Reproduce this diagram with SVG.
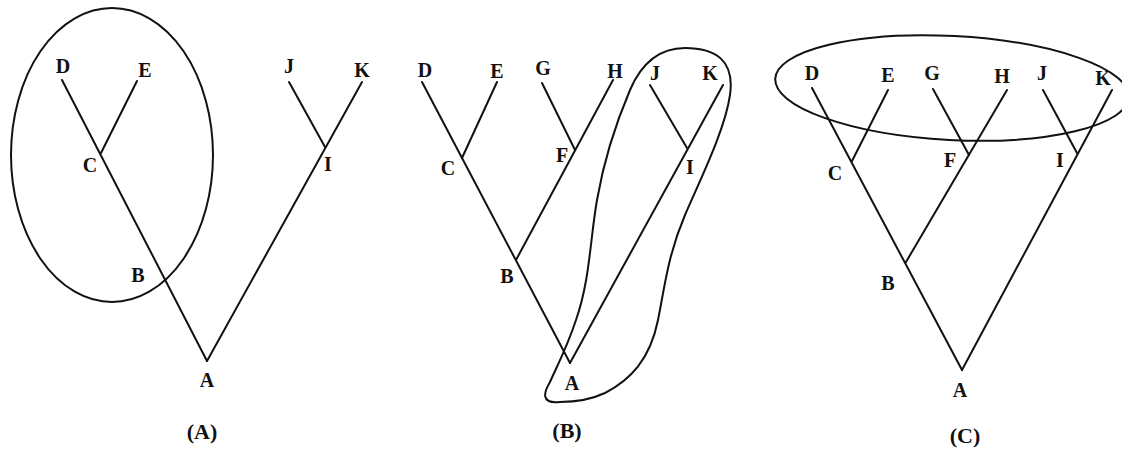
<svg xmlns="http://www.w3.org/2000/svg" width="1122" height="457" viewBox="0 0 1122 457">
<style>
.t{font-family:"Liberation Serif","Times New Roman",serif;font-weight:bold;font-size:20px;fill:#111;text-anchor:middle}
.cap{font-family:"Liberation Serif","Times New Roman",serif;font-weight:bold;font-size:22px;fill:#111;text-anchor:middle}
.e{fill:none;stroke:#111;stroke-width:2;stroke-linecap:round;stroke-linejoin:round}
</style>
<rect width="1122" height="457" fill="#fff"/>
<g id="connectors" class="e">
<!-- Panel A -->
<line x1="62" y1="80" x2="207" y2="361"/>
<line x1="137" y1="81" x2="101" y2="153"/>
<line x1="362" y1="82" x2="207" y2="361"/>
<line x1="289" y1="82" x2="325" y2="147"/>
<!-- Panel B -->
<line x1="422" y1="82" x2="570" y2="363"/>
<line x1="497" y1="82" x2="462" y2="158"/>
<line x1="613" y1="80" x2="516" y2="260"/>
<line x1="542" y1="83" x2="575" y2="150"/>
<line x1="723" y1="85" x2="570" y2="363"/>
<line x1="650" y1="85" x2="687" y2="148"/>
<!-- Panel C -->
<line x1="812" y1="88" x2="962" y2="370"/>
<line x1="888" y1="90" x2="852" y2="161"/>
<line x1="1007" y1="90" x2="906" y2="262"/>
<line x1="933" y1="89" x2="969" y2="155"/>
<line x1="1112" y1="90" x2="962" y2="370"/>
<line x1="1043" y1="90" x2="1077" y2="153"/>
</g>
<g id="groupings" class="e">
<ellipse id="ellipseA" cx="112" cy="155" rx="101" ry="147"/>
<path id="blobB" d="M 560,402 C 540,404 544,392 550,382 C 556,368 566,350 576,320 C 590,280 590,240 597,200 C 603,165 613,130 630,90 C 642,62 660,48 685,48 C 715,48 735,60 730,95 C 725,130 700,180 685,215 C 668,255 665,285 658,320 C 650,360 630,380 605,393 C 590,400 572,402 560,402 Z"/>
<ellipse id="ellipseC" cx="952" cy="88" rx="177" ry="52" transform="rotate(3 952 88)"/>
</g>
<g id="panelA">
<g id="A_D"><text class="t" x="63" y="73">D</text></g>
<g id="A_E"><text class="t" x="145" y="77">E</text></g>
<g id="A_C"><text class="t" x="90" y="172">C</text></g>
<g id="A_B"><text class="t" x="138" y="282">B</text></g>
<g id="A_A"><text class="t" x="207" y="387">A</text></g>
<g id="A_I"><text class="t" x="328" y="171">I</text></g>
<g id="A_J"><text class="t" x="289" y="73">J</text></g>
<g id="A_K"><text class="t" x="362" y="77">K</text></g>
<text class="cap" x="202" y="439">(A)</text>
</g>
<g id="panelB">
<g id="B_D"><text class="t" x="425" y="77">D</text></g>
<g id="B_E"><text class="t" x="497" y="78">E</text></g>
<g id="B_G"><text class="t" x="543" y="75">G</text></g>
<g id="B_H"><text class="t" x="615" y="78">H</text></g>
<g id="B_J"><text class="t" x="655" y="80">J</text></g>
<g id="B_K"><text class="t" x="710" y="80">K</text></g>
<g id="B_C"><text class="t" x="448" y="175">C</text></g>
<g id="B_F"><text class="t" x="562" y="162">F</text></g>
<g id="B_B"><text class="t" x="507" y="283">B</text></g>
<g id="B_A"><text class="t" x="572" y="390">A</text></g>
<g id="B_I"><text class="t" x="690" y="174">I</text></g>
<text class="cap" x="567" y="438">(B)</text>
</g>
<g id="panelC">
<g id="C_D"><text class="t" x="812" y="80">D</text></g>
<g id="C_E"><text class="t" x="888" y="82">E</text></g>
<g id="C_G"><text class="t" x="932" y="80">G</text></g>
<g id="C_H"><text class="t" x="1002" y="83">H</text></g>
<g id="C_J"><text class="t" x="1042" y="80">J</text></g>
<g id="C_K"><text class="t" x="1103" y="85">K</text></g>
<g id="C_C"><text class="t" x="835" y="180">C</text></g>
<g id="C_F"><text class="t" x="950" y="167">F</text></g>
<g id="C_I"><text class="t" x="1060" y="167">I</text></g>
<g id="C_B"><text class="t" x="888" y="290">B</text></g>
<g id="C_A"><text class="t" x="960" y="397">A</text></g>
<text class="cap" x="965" y="443">(C)</text>
</g>
</svg>
